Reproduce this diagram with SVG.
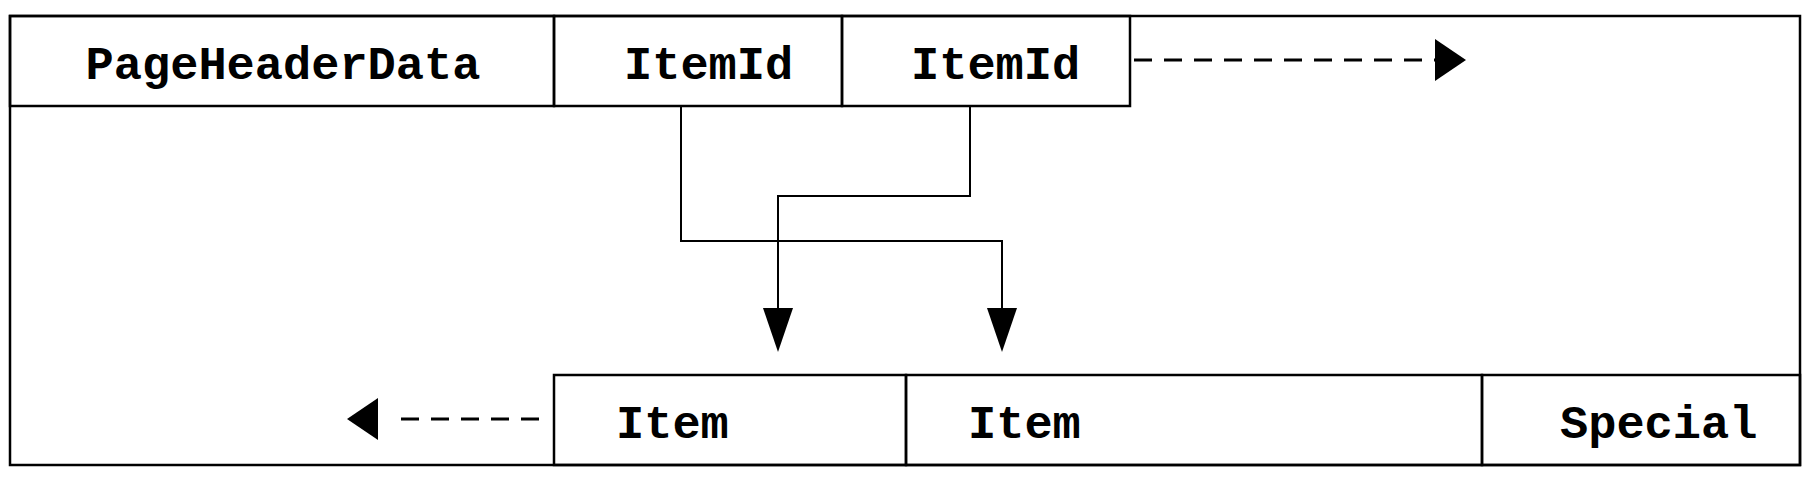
<svg xmlns="http://www.w3.org/2000/svg" width="1814" height="480" viewBox="0 0 1814 480">
<style>
.b{fill:none;stroke:#000;stroke-width:2.5}
.c{fill:none;stroke:#000;stroke-width:2}
.d{fill:none;stroke:#000;stroke-width:3;stroke-dasharray:18,12}
.t{font-family:"Liberation Mono",monospace;font-weight:bold;font-size:47px;fill:#000}
</style>
<rect class="b" x="10" y="16" width="1790" height="449"/>
<g id="n1"><rect class="b" x="10" y="16" width="544" height="90"/><text class="t" x="283" y="79" text-anchor="middle">PageHeaderData</text></g>
<g id="n2"><rect class="b" x="554" y="16" width="288" height="90"/><text class="t" x="624" y="79">ItemId</text></g>
<g id="n3"><rect class="b" x="842" y="16" width="288" height="90"/><text class="t" x="911" y="79">ItemId</text></g>
<g id="n4"><rect class="b" x="554" y="375" width="352" height="90"/><text class="t" x="616" y="438">Item</text></g>
<g id="n5"><rect class="b" x="906" y="375" width="576" height="90"/><text class="t" x="968" y="438">Item</text></g>
<g id="n6"><rect class="b" x="1482" y="375" width="318" height="90"/><text class="t" x="1560" y="438">Special</text></g>
<g id="connectors">
<path class="c" d="M681,106 V241 H1002 V308"/>
<path d="M987,308 L1017,308 L1002,352 Z"/>
<path class="c" d="M970,106 V196 H778 V308"/>
<path d="M763,308 L793,308 L778,352 Z"/>
<path class="d" d="M1134,60 H1436"/>
<path d="M1435,39 L1466,60 L1435,81 Z"/>
<path class="d" d="M539,419 H391"/>
<path d="M378,398 L347,419 L378,440 Z"/>
</g>
</svg>
